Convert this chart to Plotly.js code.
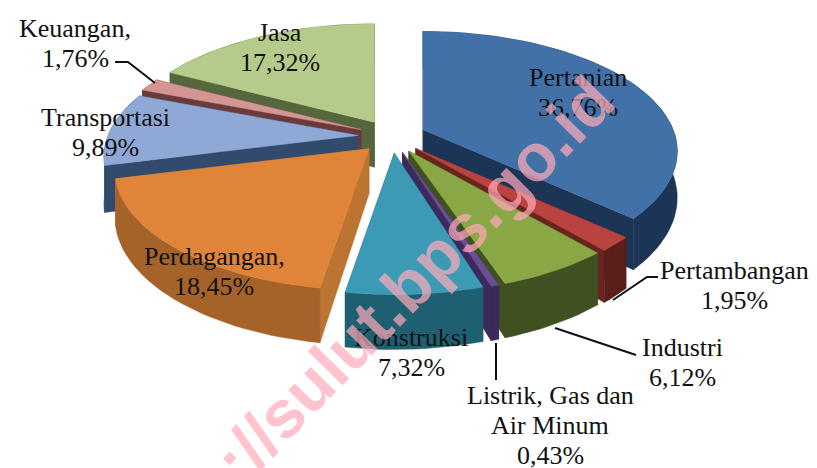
<!DOCTYPE html>
<html><head><meta charset="utf-8">
<script src="https://cdn.plot.ly/plotly-3.0.1.min.js"></script>
<style>html,body{margin:0;padding:0;background:#fff}#c{width:817px;height:468px}</style>
</head><body><div id="c"></div>
<script>
// DATA
const categories = ["Pertanian","Pertambangan","Industri","Listrik, Gas dan|Air Minum","Konstruksi","Perdagangan,","Transportasi","Keuangan,","Jasa"];
const shares = [36.76,1.95,6.12,0.43,7.32,18.45,9.89,1.76,17.32];
const topColors  = ["#4271a8","#b8433f","#8aa745","#6a4f92","#3c9ab5","#df8438","#8fa8d6","#d49694","#b5cb8c"];
const wallColors = ["#1c3557","#5a1f1b","#3f5120","#3d2a5c","#1f5f72","#a5632a","#324a6b","#6b3b3b","#56673d"];
const cutColors  = ["#1c3557","#6a241f","#3f5120","#3d2a5c","#1f5f72","#bb7431","#324a6b","#6b3b3b","#56673d"];
// first-line centre of every label
const labelCenters = [[578,77],[734,270],[682,347],[550,395],[411,337],[214,256],[105,117],[75,28],[280,32]];
const drawOrder = [8,0,7,1,6,2,5,3,4];
const leaders = [[[115,62],[128,62],[155,83]],[[613,300],[647,277],[658,277]],[[555,328],[636,355]],[[496,343],[496,380]]];

// projection of the tilted pie
const cx=392, cy=136.5, R=250, K=116, P=0.18, EX=34, EY=16.7, DEPTH=45, LINE=30;
const rad=d=>d*Math.PI/180;
function slices(){
  const total=shares.reduce((a,b)=>a+b,0); let acc=0;
  return shares.map(v=>{const a0=acc/total*360; acc+=v; return {a0,a1:acc/total*360};});
}
function geom(s){
  const b=rad((s.a0+s.a1)/2), ox=cx+EX*Math.sin(b), oy=cy-EY*Math.cos(b);
  const pt=(deg,drop)=>{const X=Math.sin(rad(deg)),Y=-Math.cos(rad(deg)),k=1/(1-P*Y);
    return [ox+R*X*k, oy+K*Y*k+(drop?DEPTH*k:0)];};
  const n=Math.max(2,Math.ceil((s.a1-s.a0)/2));
  const arc=drop=>Array.from({length:n+1},(_,i)=>pt(s.a0+(s.a1-s.a0)*i/n,drop));
  return {apex:[ox,oy],apexLow:[ox,oy+DEPTH],top:arc(false),low:arc(true)};
}
function poly(pts,color,name){
  const p=pts.concat([pts[0]]);
  return {type:'scatter',mode:'lines',x:p.map(q=>q[0]),y:p.map(q=>q[1]),fill:'toself',fillcolor:color,
    line:{color:color,width:0.5},hoverinfo:'text',text:name,showlegend:false};
}
const S=slices(), traces=[];
drawOrder.forEach(i=>{
  const g=geom(S[i]), name=categories[i].replace('|',' ')+' '+shares[i]+'%';
  traces.push(poly([g.apex,g.top[0],g.low[0],g.apexLow],cutColors[i],name));
  traces.push(poly([g.apex,g.top[g.top.length-1],g.low[g.low.length-1],g.apexLow],cutColors[i],name));
  traces.push(poly(g.top.concat(g.low.slice().reverse()),wallColors[i],name));
  traces.push(poly([g.apex].concat(g.top),topColors[i],name));
});
leaders.forEach(l=>traces.push({type:'scatter',mode:'lines',x:l.map(p=>p[0]),y:l.map(p=>p[1]),
  line:{color:'#111',width:2},hoverinfo:'skip',showlegend:false}));

const anns=[];
categories.forEach((c,i)=>{
  c.split('|').concat([shares[i].toFixed(2).replace('.',',')+'%']).forEach((t,j)=>{
    anns.push({xref:'x',yref:'y',x:labelCenters[i][0],y:labelCenters[i][1]+j*LINE,text:t,showarrow:false,
      font:{family:'"Liberation Serif",serif',size:26,color:'#111'}});
  });
});
anns.push({xref:'x',yref:'y',x:369,y:324,text:'http://sulut.bps.go.id',textangle:-45.5,showarrow:false,
  font:{family:'"Liberation Sans",sans-serif',size:67,color:'rgba(255,170,185,0.71)',weight:700}});

Plotly.newPlot('c',traces,{width:817,height:468,margin:{l:0,r:0,t:0,b:0},paper_bgcolor:'#fff',plot_bgcolor:'#fff',
  xaxis:{range:[0,817],visible:false,fixedrange:true},yaxis:{range:[468,0],visible:false,fixedrange:true},
  showlegend:false,annotations:anns},{displayModeBar:false,staticPlot:true});
</script></body></html>
